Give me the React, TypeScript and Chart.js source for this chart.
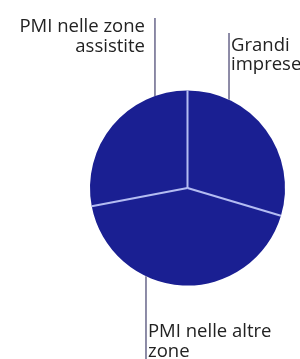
import React, { useEffect, useRef } from "react";
import { Chart, registerables } from "chart.js";

Chart.register(...registerables);

const categories = ["Grandi imprese", "PMI nelle altre zone", "PMI nelle zone assistite"];
const shares = [29.6, 42.4, 28.0];
const labelLines = [["Grandi", "imprese"], ["PMI nelle altre", "zone"], ["PMI nelle zone", "assistite"]];

const leaderPlugin = {
  id: "leaders",
  afterDatasetsDraw(chart: any) {
    const ctx = chart.ctx;
    const meta = chart.getDatasetMeta(0);
    const arcs = meta.data;
    if (!arcs.length) return;
    const cx = arcs[0].x;
    const cy = arcs[0].y;
    const r = arcs[0].outerRadius;
    ctx.save();
    // separators between slices
    ctx.strokeStyle = "#b4bcf2";
    ctx.lineWidth = 2;
    arcs.forEach((a: any) => {
      ctx.beginPath();
      ctx.moveTo(cx, cy);
      ctx.lineTo(cx + r * Math.cos(a.startAngle), cy + r * Math.sin(a.startAngle));
      ctx.stroke();
    });
    // leader lines + labels
    const cfg = [
      { ang: 25.2, lineTo: 33, side: "right", baseline: 51, lh: 18.5 },
      { ang: 205.2, lineTo: 359, side: "right", baseline: 337, lh: 20 },
      { ang: 340.5, lineTo: 18, side: "left", baseline: 31.5, lh: 20 },
    ];
    ctx.font = '18.5px "Open Sans"';
    cfg.forEach((c, i) => {
      const t = (c.ang * Math.PI) / 180;
      const x = cx + r * Math.sin(t);
      const y = cy - r * Math.cos(t);
      ctx.strokeStyle = "#7a7898";
      ctx.lineWidth = 1.7;
      ctx.beginPath();
      ctx.moveTo(x, y);
      ctx.lineTo(x, c.lineTo);
      ctx.stroke();
      ctx.fillStyle = "#222222";
      ctx.textBaseline = "alphabetic";
      ctx.textAlign = c.side === "right" ? "left" : "right";
      const tx = c.side === "right" ? x + 2 : x - 10;
      labelLines[i].forEach((line, j) => {
        ctx.fillText(line, tx, c.baseline + j * c.lh);
      });
    });
    ctx.restore();
  },
};

export default function App() {
  const ref = useRef<HTMLCanvasElement>(null);
  useEffect(() => {
    document.body.style.margin = "0";
    const chart = new Chart(ref.current!, {
      type: "pie",
      data: {
        labels: categories,
        datasets: [
          {
            data: shares,
            backgroundColor: "#1a1f92",
            borderWidth: 0,
          },
        ],
      },
      options: {
        responsive: false,
        animation: false,
        radius: 97.5,
        layout: { padding: { left: 90, right: 15, top: 91, bottom: 74 } },
        plugins: { legend: { display: false }, tooltip: { enabled: false } },
      },
      plugins: [leaderPlugin],
    });
    return () => chart.destroy();
  }, []);
  return (
    <div style={{ position: "fixed", left: 0, top: 0, width: 300, height: 359, background: "#fff" }}>
      <canvas ref={ref} width={300} height={359} />
    </div>
  );
}
